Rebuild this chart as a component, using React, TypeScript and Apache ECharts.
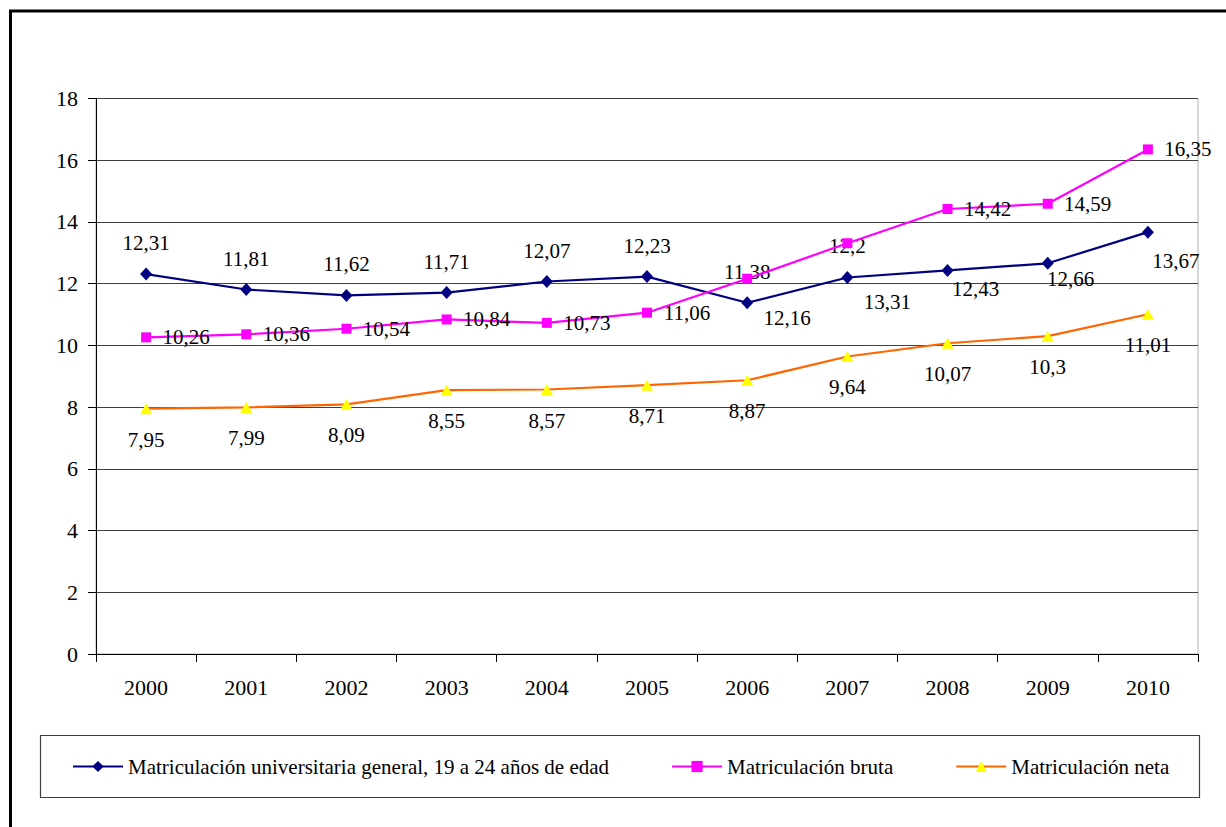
import React, { useEffect, useRef } from "react";
import * as echarts from "echarts";

// ---- data ----
const years = ["2000", "2001", "2002", "2003", "2004", "2005", "2006", "2007", "2008", "2009", "2010"];
const generalValues = [12.31, 11.81, 11.62, 11.71, 12.07, 12.23, 11.38, 12.2, 12.43, 12.66, 13.67];
const brutaValues = [10.26, 10.36, 10.54, 10.84, 10.73, 11.06, 12.16, 13.31, 14.42, 14.59, 16.35];
const netaValues = [7.95, 7.99, 8.09, 8.55, 8.57, 8.71, 8.87, 9.64, 10.07, 10.3, 11.01];
const seriesNames = [
  "Matriculación universitaria general, 19 a 24 años de edad",
  "Matriculación bruta",
  "Matriculación neta",
];
const yMin = 0;
const yMax = 18;
const yStep = 2;

// ---- label placement (styling, not data) ----
const generalLabelOffsets = [
  [0, -31], [0, -31], [0, -31], [0, -31], [0, -31], [0, -31], [0, -31], [0, -31],
  [28, 19], [23, 16], [28, 29],
];
const brutaLabelOffsets = [
  [40, 0], [40, 0], [40, 0], [40, 0], [40, 0], [40, 0], [40, 39], [40, 59],
  [40, 0], [40, 0], [40, 0],
];
const netaLabelOffsets = years.map(() => [0, 31]);

const FONT = "Liberation Serif";

const fmt = (v: number) => String(v).replace(".", ",");

function buildData(values: number[], offsets: number[][]) {
  return values.map((v, i) => ({
    value: v,
    label: { offset: offsets[i] },
  }));
}

const labelBase = {
  show: true,
  position: "inside",
  align: "center",
  verticalAlign: "middle",
  color: "#000",
  fontFamily: FONT,
  fontSize: 21,
  formatter: (p: any) => fmt(p.value),
};

export default function App() {
  const ref = useRef<HTMLDivElement>(null);

  useEffect(() => {
    document.body.style.margin = "0";
    if (!ref.current) return;
    const chart = echarts.init(ref.current, undefined, { renderer: "svg" });
    chart.setOption({
      animation: false,
      backgroundColor: "#fff",
      textStyle: { fontFamily: FONT },
      grid: {
        left: 96,
        right: 28,
        top: 98.5,
        bottom: 173,
        show: true,
        borderColor: "#b0b0b0",
        borderWidth: 1,
      },
      xAxis: {
        type: "category",
        data: years,
        boundaryGap: true,
        axisLine: { show: true, lineStyle: { color: "#000", width: 1 } },
        axisTick: { show: true, length: 8, lineStyle: { color: "#000" }, alignWithLabel: false },
        axisLabel: { color: "#000", fontFamily: FONT, fontSize: 22, margin: 22 },
        splitLine: { show: false },
      },
      yAxis: {
        type: "value",
        min: yMin,
        max: yMax,
        interval: yStep,
        axisLine: { show: true, lineStyle: { color: "#000", width: 1 } },
        axisTick: { show: true, length: 8, lineStyle: { color: "#000" } },
        axisLabel: { color: "#000", fontFamily: FONT, fontSize: 22, margin: 18 },
        splitLine: { show: true, lineStyle: { color: "#404040", width: 1 } },
      },
      legend: {
        left: 72,
        top: 756,
        padding: 0,
        itemGap: 62,
        itemWidth: 50,
        itemHeight: 14,
        textStyle: { color: "#000", fontFamily: FONT, fontSize: 21 },
        data: seriesNames,
      },
      graphic: [
        {
          type: "rect",
          shape: { x: 40.5, y: 735.5, width: 1159, height: 62 },
          style: { fill: "none", stroke: "#404040", lineWidth: 1.2 },
          silent: true,
        },
        {
          type: "rect",
          shape: { x: 10.5, y: 11, width: 1400, height: 1000 },
          style: { fill: "none", stroke: "#000", lineWidth: 3 },
          silent: true,
        },
      ],
      series: [
        {
          name: seriesNames[0],
          type: "line",
          data: buildData(generalValues, generalLabelOffsets),
          symbol: "diamond",
          symbolSize: [12, 13],
          lineStyle: { color: "#000080", width: 2.2 },
          itemStyle: { color: "#000080" },
          label: labelBase,
          z: 3,
        },
        {
          name: seriesNames[1],
          type: "line",
          data: buildData(brutaValues, brutaLabelOffsets),
          symbol: "rect",
          symbolSize: 10,
          lineStyle: { color: "#FF00FF", width: 2.2 },
          itemStyle: { color: "#FF00FF" },
          label: labelBase,
          z: 4,
        },
        {
          name: seriesNames[2],
          type: "line",
          data: buildData(netaValues, netaLabelOffsets),
          symbol: "triangle",
          symbolSize: [12, 11],
          lineStyle: { color: "#FF6600", width: 2.2 },
          itemStyle: { color: "#FFFF00" },
          label: labelBase,
          z: 5,
        },
      ],
    });
    return () => chart.dispose();
  }, []);

  return <div ref={ref} style={{ width: 1226, height: 827 }} />;
}
